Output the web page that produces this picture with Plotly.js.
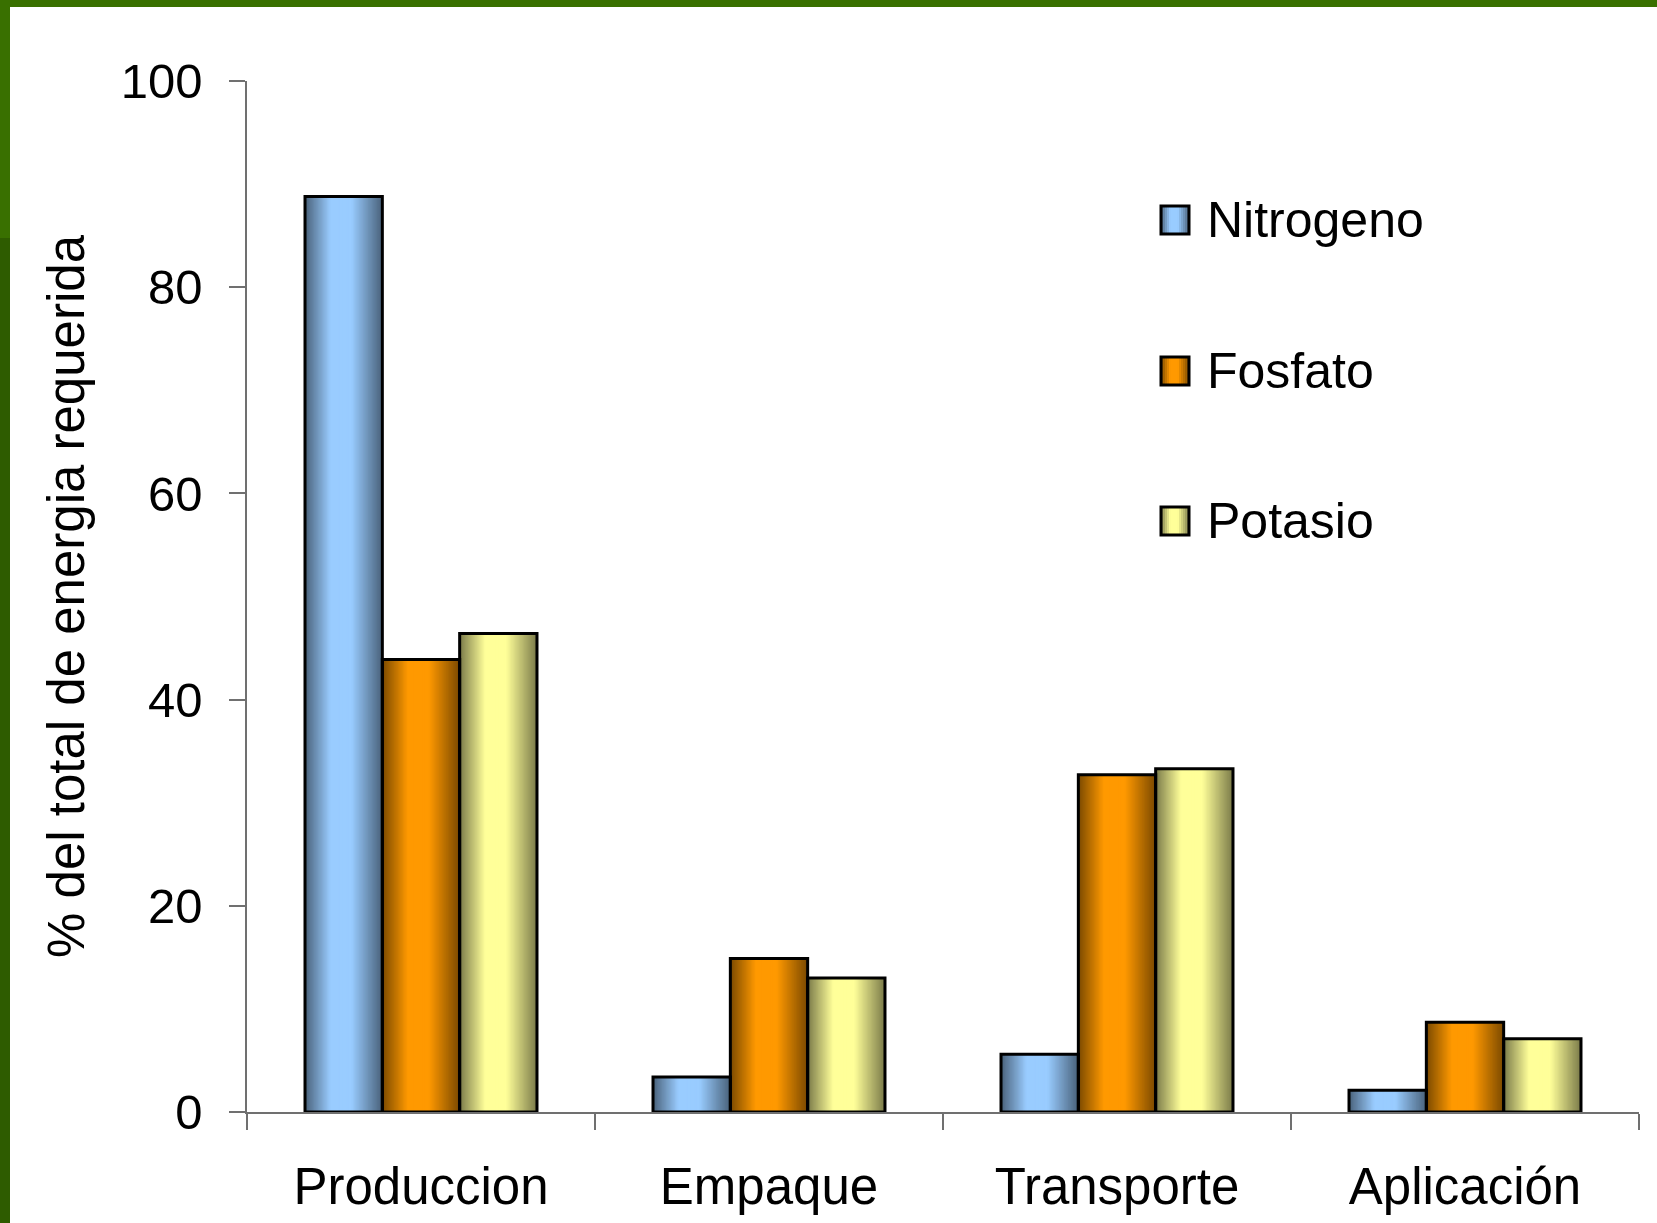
<!DOCTYPE html>
<html><head><meta charset="utf-8">
<script src="https://cdn.plot.ly/plotly-3.0.1.min.js"></script>
<style>
html,body{margin:0;padding:0;background:#fff;}
#wrap{position:relative;width:1657px;height:1223px;overflow:hidden;}
#chart{position:absolute;left:0;top:0;width:1657px;height:1223px;}
.bd{position:absolute;z-index:10;}
</style></head><body>
<div id="wrap"><div id="chart"></div>
<div class="bd" style="left:0;top:0;width:1657px;height:7px;background:#397000"></div>
<div class="bd" style="left:0;top:0;width:10px;height:238px;background:#397000"></div>
<div class="bd" style="left:0;top:238px;width:10px;height:985px;background:#2e5c00"></div>
</div>
<script>
// ---- data ----
const categories = ['Produccion', 'Empaque', 'Transporte', 'Aplicación'];
const seriesNames = ['Nitrogeno', 'Fosfato', 'Potasio'];
const nitrogeno = [88.8, 3.4, 5.6, 2.1];
const fosfato = [43.9, 14.9, 32.7, 8.7];
const potasio = [46.4, 13.0, 33.3, 7.1];
const yTickVals = [0, 20, 40, 60, 80, 100];
const yTickText = ['0', '20', '40', '60', '80', '100'];
const yTitle = '% del total de energia requerida';

// ---- styling ----
const seriesValues = [nitrogeno, fosfato, potasio];
const baseColors = [[153, 204, 255], [255, 153, 0], [255, 255, 153]];
function grad(c, t) {
  // dark edges (half brightness), bright plateau between ~0.33 and ~0.6 of the width
  const f = t < 0.33 ? t / 0.33 : (t > 0.6 ? (1 - t) / 0.4 : 1);
  const m = 0.48 + 0.52 * Math.max(0, Math.min(1, f));
  return 'rgb(' + c.map(v => Math.round(v * m)).join(',') + ')';
}
const K = 60, barW = 0.2222, groupStart = -0.3333;

const L = 247, R = 18, T = 81, B = 111;
const W = 1657 - L - R, H = 1223 - T - B;
const px = x => (x - L) / W;
const py = y => (T + H - y) / H;

// gradient fill: K overlapping slices, each running from its start to the bar's right edge,
// drawn left to right so each one covers the previous (no seams)
const traces = [];
seriesValues.forEach((vals, s) => {
  for (let k = 0; k < K; k++) {
    traces.push({
      type: 'bar', x: categories, y: vals,
      offset: groupStart + s * barW + k * barW / K, width: barW * (K - k) / K,
      marker: {color: grad(baseColors[s], (k + 0.5) / K), line: {width: 0}},
      showlegend: false, hoverinfo: 'skip'
    });
  }
});
seriesValues.forEach((vals, s) => {
  traces.push({
    type: 'bar', x: categories, y: vals, name: seriesNames[s],
    offset: groupStart + s * barW, width: barW,
    marker: {color: 'rgba(0,0,0,0)', line: {color: '#000', width: 3}},
    showlegend: false
  });
});

// legend built from series names/colours
const legRows = [220, 371, 521];
const shapes = [], annotations = [];
seriesNames.forEach((name, s) => {
  const cy = legRows[s], x0 = 1161, x1 = 1189, n = 14;
  for (let j = 0; j < n; j++) {
    shapes.push({type: 'rect', xref: 'paper', yref: 'paper', layer: 'above',
      x0: px(x0 + j * (x1 - x0) / n), x1: px(x1),
      y0: py(cy + 14), y1: py(cy - 14),
      fillcolor: grad(baseColors[s], (j + 0.5) / n), line: {width: 0}});
  }
  shapes.push({type: 'rect', xref: 'paper', yref: 'paper', layer: 'above',
    x0: px(x0), x1: px(x1), y0: py(cy + 14), y1: py(cy - 14),
    fillcolor: 'rgba(0,0,0,0)', line: {color: '#000', width: 3}});
  annotations.push({text: name, xref: 'paper', yref: 'paper', x: px(1205), y: py(cy),
    xanchor: 'left', yanchor: 'middle', showarrow: false, font: {size: 50, color: '#000'}});
});

const axisCol = '#707070';
const layout = {
  width: 1657, height: 1223,
  margin: {l: L, r: R, t: T, b: B, pad: 0},
  paper_bgcolor: '#ffffff', plot_bgcolor: '#ffffff',
  font: {family: '"Liberation Sans", Arial, sans-serif', color: '#000'},
  barmode: 'overlay', showlegend: false,
  xaxis: {type: 'category', range: [-0.5, 3.5], tickson: 'boundaries',
    ticks: 'outside', ticklen: 16, tickwidth: 1.5, tickcolor: axisCol,
    showline: true, linecolor: axisCol, linewidth: 1.5,
    showgrid: false, zeroline: false, tickfont: {size: 51}, ticklabelstandoff: 29,
    fixedrange: true},
  yaxis: {range: [0, 100], tickvals: yTickVals, ticktext: yTickText,
    ticks: 'outside', ticklen: 16, tickwidth: 1.5, tickcolor: axisCol,
    showline: true, linecolor: axisCol, linewidth: 1.5,
    showgrid: false, zeroline: false, tickfont: {size: 49}, ticklabelstandoff: 17,
    title: {text: yTitle, font: {size: 51}, standoff: 20}, fixedrange: true},
  shapes: shapes, annotations: annotations
};
Plotly.newPlot('chart', traces, layout, {displayModeBar: false, responsive: false});
</script>
</body></html>
